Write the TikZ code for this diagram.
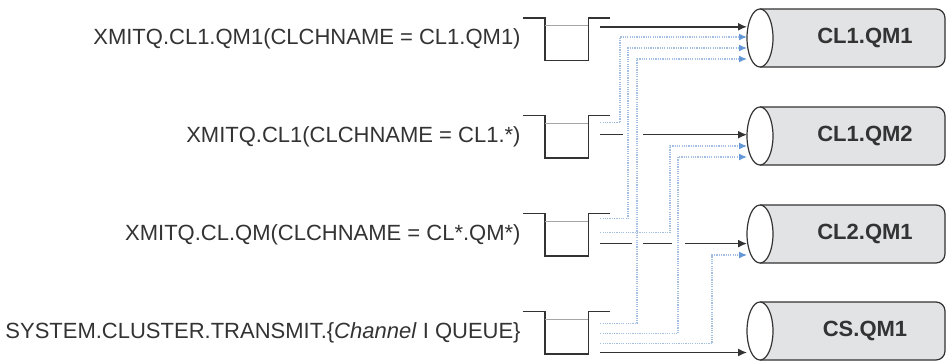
\documentclass[tikz,border=0pt]{standalone}
\usepackage{fontspec}
\setmainfont{Liberation Sans}
\usepackage{xcolor}
\usetikzlibrary{arrows.meta, positioning, shapes.geometric}

\definecolor{ink}{HTML}{333333}
\definecolor{dotline}{HTML}{A4BFE2}
\definecolor{dottip}{HTML}{6497D8}
\definecolor{drumgray}{HTML}{E2E3E5}

\begin{document}
\begin{tikzpicture}[
    x=1pt, y=1pt,
    font=\fontsize{22}{25}\selectfont,
    node distance=55.5pt,
    qbox/.style={rectangle, minimum width=43pt, minimum height=42pt, inner sep=0pt},
    qline/.style={draw=ink, line width=1.4pt},
    qlevel/.style={draw=gray!70, line width=1.2pt},
    lbl/.style={text=ink, inner sep=0pt},
    flow/.style={draw=ink, line width=1.4pt, -{Latex[length=9pt, width=8pt]}},
    alt/.style={draw=dotline, line width=1.3pt, dash pattern=on 1.2pt off 1.1pt,
        -{Latex[length=8pt, width=7pt, color=dottip]}},
    drum/.pic={
        \filldraw[fill=drumgray, draw=ink, line width=1.2pt, rounded corners=9pt]
            (-93,29) -- (92,29) -- (92,-29) -- (-93,-29);
        \node[ellipse, draw=ink, line width=1.2pt, fill=white, minimum width=26pt,
            minimum height=58pt, inner sep=0pt] (-end) at (-93,0) {};
        \node[text=ink, font=\fontsize{22}{25}\selectfont\bfseries] at (12,0) {#1};
        \coordinate (-s1) at (-106,11);
        \coordinate (-s2) at (-106,1);
        \coordinate (-s3) at (-106,-10);
        \coordinate (-s4) at (-106,-21);
    }
]
\useasboundingbox (0,0) rectangle (946,360);

% Queues
\node[qbox] (q1) at (566.5,321) {};
\node[qbox, below=of q1] (q2) {};
\node[qbox, below=of q2] (q3) {};
\node[qbox, below=of q3] (q4) {};

\foreach \q in {q1,q2,q3,q4}{
    \draw[qline] ([xshift=-22pt]\q.north west) -- (\q.north west) -- (\q.south west)
        -- (\q.south east) -- (\q.north east) -- ++(22pt,0);
    \draw[qlevel] ([yshift=-8pt]\q.north west) -- ([yshift=-8pt]\q.north east);
}

% Labels
\node[lbl, left=24pt of q1] (l1) {XMITQ.CL1.QM1(CLCHNAME = CL1.QM1)};
\node[lbl, left=24pt of q2] (l2) {XMITQ.CL1(CLCHNAME = CL1.*)};
\node[lbl, left=24pt of q3] (l3) {XMITQ.CL.QM(CLCHNAME = CL*.QM*)};
\node[lbl, left=24pt of q4] (l4) {SYSTEM.CLUSTER.TRANSMIT.\{\textit{Channel} I QUEUE\}};

% Queue managers
\pic (c1) at (853,322) {drum=CL1.QM1};
\pic (c2) at (853,224) {drum=CL1.QM2};
\pic (c3) at (853,126) {drum=CL2.QM1};
\pic (c4) at (853,29) {drum=CS.QM1};

% Exits
\coordinate (x1a) at ([xshift=12pt,yshift=-9pt]q1.north east);
\coordinate (x2a) at ([xshift=12pt,yshift=-7pt]q2.north east);
\coordinate (x2b) at ([xshift=12pt,yshift=-19pt]q2.north east);
\coordinate (x3a) at ([xshift=12pt,yshift=-5pt]q3.north east);
\coordinate (x3b) at ([xshift=12pt,yshift=-19pt]q3.north east);
\coordinate (x3c) at ([xshift=12pt,yshift=-30pt]q3.north east);
\coordinate (x4a) at ([xshift=12pt,yshift=-12pt]q4.north east);
\coordinate (x4b) at ([xshift=12pt,yshift=-22pt]q4.north east);
\coordinate (x4c) at ([xshift=12pt,yshift=-32pt]q4.north east);
\coordinate (x4d) at ([xshift=12pt,yshift=-41pt]q4.north east);

% Other channels
\draw[alt] (x2a) -| ([xshift=-127pt]c1-s2) -- (c1-s2);
\draw[alt] (x3a) -| ([xshift=-119pt]c1-s3) -- (c1-s3);
\draw[alt] (x4a) -| ([xshift=-110pt]c1-s4) -- (c1-s4);
\draw[alt] (x3b) -| ([xshift=-77pt]c2-s3) -- (c2-s3);
\draw[alt] (x4b) -| ([xshift=-69pt]c2-s4) -- (c2-s4);
\draw[alt] (x4c) -| ([xshift=-35pt]c3-s4) -- (c3-s4);

% Own channels
\draw[flow] (x1a) -- (x1a -| c1-s1);
\draw[flow] (x2b) -- ++(23pt,0) ++(20pt,0) -- (x2b -| c2-s2);
\draw[flow] (x3c) -- ++(32pt,0) ++(11pt,0) -- ++(29pt,0) ++(13pt,0) -- (x3c -| c3-s3);
\draw[flow] (x4d) -- (x4d -| c4-s4);
\end{tikzpicture}
\end{document}
